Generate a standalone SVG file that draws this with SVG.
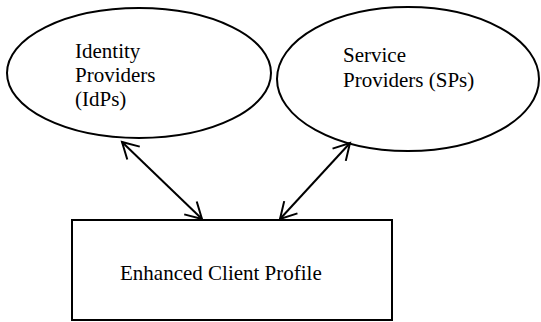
<svg xmlns="http://www.w3.org/2000/svg" width="541" height="322" viewBox="0 0 541 322">
<style>
.shape{fill:#fff;stroke:#000;stroke-width:2}
.t{font-family:"Liberation Serif",serif;font-size:21px;fill:#000}
.c{stroke:#000;stroke-width:2;fill:none}
</style>
<defs>
<marker id="ah" viewBox="0 0 22 22" refX="19" refY="11" markerWidth="22" markerHeight="22" markerUnits="userSpaceOnUse" orient="auto-start-reverse">
<polyline points="3,2 19,11 3,20" fill="none" stroke="#000" stroke-width="2"/>
</marker>
</defs>
<rect width="541" height="322" fill="#fff"/>
<g id="idp">
<ellipse class="shape" cx="139" cy="73" rx="132" ry="65"/>
<text class="t" x="75" y="58">Identity</text>
<text class="t" x="75" y="82">Providers</text>
<text class="t" x="75" y="106">(IdPs)</text>
</g>
<g id="sp">
<ellipse class="shape" cx="408" cy="79" rx="131" ry="72"/>
<text class="t" x="343" y="62">Service</text>
<text class="t" x="343" y="87">Providers (SPs)</text>
</g>
<g id="ecp">
<rect class="shape" x="72" y="220" width="320" height="100"/>
<text class="t" x="120" y="280">Enhanced Client Profile</text>
</g>
<g id="connectors">
<line class="c" x1="122" y1="142" x2="202" y2="219" marker-start="url(#ah)" marker-end="url(#ah)"/>
<line class="c" x1="350" y1="143" x2="280" y2="219" marker-start="url(#ah)" marker-end="url(#ah)"/>
</g>
</svg>
